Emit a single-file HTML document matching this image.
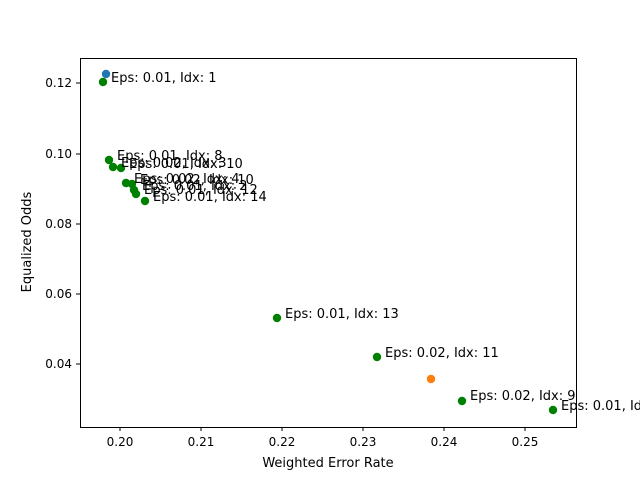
<!DOCTYPE html>
<html><head><style>body{margin:0;background:#fff}</style></head><body>
<svg width="640" height="480" xmlns="http://www.w3.org/2000/svg" font-family="DejaVu Sans, Liberation Sans, sans-serif" font-size="13">
<rect width="640" height="480" fill="#fff"/>
<g fill="green">
<circle cx="103" cy="82" r="4.2"/>
<circle cx="109" cy="160" r="4.2"/>
<circle cx="113" cy="167" r="4.2"/>
<circle cx="121" cy="168" r="4.2"/>
<circle cx="126" cy="183" r="4.2"/>
<circle cx="132" cy="184" r="4.2"/>
<circle cx="134" cy="190" r="4.2"/>
<circle cx="136" cy="194" r="4.2"/>
<circle cx="145" cy="201" r="4.2"/>
<circle cx="277" cy="318" r="4.2"/>
<circle cx="377" cy="357" r="4.2"/>
<circle cx="462" cy="401" r="4.2"/>
<circle cx="553" cy="410" r="4.2"/>
</g>
<circle cx="106" cy="74" r="4.2" fill="#1f77b4"/>
<circle cx="431" cy="379" r="4.2" fill="#ff7f0e"/>
<g fill="#000">
<text x="111" y="82">Eps: 0.01, Idx: 1</text>
<text x="117" y="160">Eps: 0.01, Idx: 8</text>
<text x="121" y="167">Eps: 0.02, Idx: 3</text>
<text x="129" y="168">Eps: 0.01, Idx: 10</text>
<text x="134" y="183">Eps: 0.02, Idx: 4</text>
<text x="140" y="184">Eps: 0.02, Idx: 10</text>
<text x="142" y="190">Eps: 0.01, Idx: 2</text>
<text x="144" y="194">Eps: 0.01, Idx: 12</text>
<text x="153" y="201">Eps: 0.01, Idx: 14</text>
<text x="285" y="318">Eps: 0.01, Idx: 13</text>
<text x="385" y="357">Eps: 0.02, Idx: 11</text>
<text x="470" y="400">Eps: 0.02, Idx: 9</text>
<text x="561" y="410">Eps: 0.01, Idx: 5</text>
</g>
<rect x="80.5" y="58.5" width="496" height="369" fill="none" stroke="#000" stroke-width="1"/>
<g stroke="#000" stroke-width="1">
<line x1="120" y1="427" x2="120" y2="431"/><line x1="201" y1="427" x2="201" y2="431"/>
<line x1="282" y1="427" x2="282" y2="431"/><line x1="363" y1="427" x2="363" y2="431"/>
<line x1="444" y1="427" x2="444" y2="431"/><line x1="525" y1="427" x2="525" y2="431"/>
<line x1="76" y1="83" x2="80" y2="83"/><line x1="76" y1="154" x2="80" y2="154"/>
<line x1="76" y1="224" x2="80" y2="224"/><line x1="76" y1="294" x2="80" y2="294"/>
<line x1="76" y1="364" x2="80" y2="364"/>
</g>
<g font-size="12" text-anchor="middle">
<text x="120" y="446">0.20</text><text x="201" y="446">0.21</text><text x="282" y="446">0.22</text>
<text x="363" y="446">0.23</text><text x="444" y="446">0.24</text><text x="525" y="446">0.25</text>
<text x="328" y="467" font-size="13">Weighted Error Rate</text>
</g>
<g font-size="12" text-anchor="end">
<text x="72" y="87">0.12</text><text x="72" y="158">0.10</text><text x="72" y="228">0.08</text>
<text x="72" y="298">0.06</text><text x="72" y="368">0.04</text>
</g>
<text transform="translate(31,242) rotate(-90)" text-anchor="middle" font-size="13">Equalized Odds</text>
</svg>
</body></html>
